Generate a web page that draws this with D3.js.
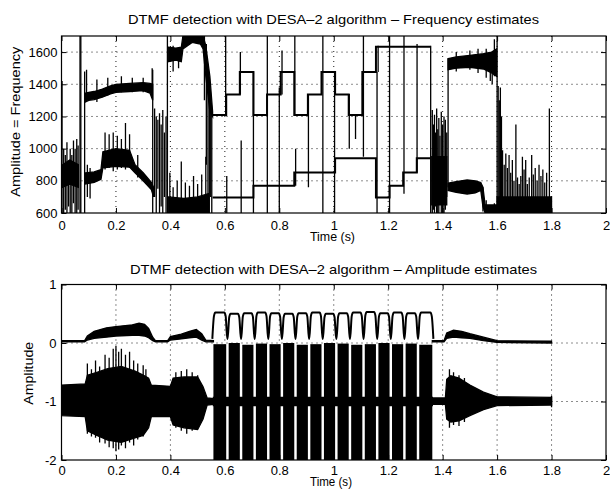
<!DOCTYPE html>
<html>
<head>
<meta charset="utf-8">
<script src="https://cdn.jsdelivr.net/npm/d3@7"></script>
<style>
    body { margin: 0; background: #fff; }
    text { font-family: "Liberation Sans", Arial, Helvetica, sans-serif; fill: #000; }
</style>
</head>
<body>
<div id="chart"></div>
<script>
//----------------------------------------------------------------------------
// data
const xTicks = [0, 0.2, 0.4, 0.6, 0.8, 1, 1.2, 1.4, 1.6, 1.8, 2]
const freqTicks = [600, 800, 1000, 1200, 1400, 1600]
const ampTicks = [-2, -1, 0, 1]

// keyed tones: edges (s), column and row frequency of each tone
const toneEdges = [0.555, 0.605, 0.655, 0.705, 0.755, 0.805, 0.855, 0.905, 0.955,
    1.005, 1.055, 1.105, 1.155, 1.205, 1.255, 1.305, 1.355]
const toneHigh = [1209, 1336, 1477, 1209, 1336, 1477, 1209, 1336, 1477, 1336, 1209, 1477, 1633, 1633, 1633, 1633]
const toneLow = [697, 697, 697, 770, 770, 770, 852, 852, 852, 941, 941, 941, 697, 770, 852, 941]

// noisy stretches of the frequency estimates: [time, lower edge, upper edge]
const freqStartBand = [[0.004, 760, 900], [0.03, 780, 930], [0.062, 760, 900]]
const freqHighSpeech = [[0.088, 1290, 1345], [0.1, 1300, 1350], [0.12, 1305, 1355], [0.15, 1320, 1370],
    [0.18, 1340, 1390], [0.2, 1350, 1400], [0.25, 1355, 1405], [0.3, 1360, 1410], [0.325, 1345, 1405], [0.335, 1300, 1400]]
const freqLowSpeech = [[0.088, 780, 850], [0.12, 790, 855], [0.145, 810, 870], [0.152, 880, 980], [0.2, 890, 1000],
    [0.25, 885, 990], [0.27, 850, 900], [0.3, 800, 850], [0.33, 745, 790], [0.338, 700, 760]]
const freqHighMid = [[0.392, 1540, 1630], [0.42, 1550, 1625], [0.44, 1540, 1630], [0.446, 1620, 1700], [0.48, 1660, 1700],
    [0.51, 1650, 1700], [0.52, 1620, 1700], [0.53, 1450, 1640], [0.545, 1230, 1450], [0.555, 1200, 1230]]
const freqLowMid = [[0.392, 600, 700], [0.45, 600, 690], [0.5, 600, 700], [0.54, 600, 720]]
const freqNoiseBand = [[1.36, 650, 950], [1.415, 650, 950]]
const freqHighTail = [[1.42, 1490, 1560], [1.45, 1500, 1570], [1.5, 1505, 1580], [1.55, 1495, 1590], [1.58, 1470, 1600], [1.598, 1450, 1620]]
const freqLowTail = [[1.42, 740, 785], [1.45, 728, 795], [1.49, 718, 805], [1.52, 725, 800], [1.54, 740, 790],
    [1.548, 640, 760], [1.556, 600, 650], [1.6, 600, 650]]
const freqEndBand = [[1.6, 600, 700], [1.8, 600, 700]]

// vertical excursions of the frequency traces: [time, from, to]
const freqSpikes = [
    [0.002, 600, 1420], [0.008, 600, 1000], [0.014, 620, 960], [0.02, 600, 1040], [0.026, 640, 920], [0.032, 600, 1000],
    [0.038, 600, 960], [0.044, 660, 1050], [0.05, 600, 1000], [0.056, 600, 1060], [0.061, 620, 1020],
    [0.068, 600, 1700], [0.071, 600, 1700], [0.085, 600, 1480],
    [0.092, 1300, 1490], [0.13, 1290, 1430], [0.17, 1330, 1440], [0.22, 1350, 1450], [0.26, 1350, 1440], [0.3, 1350, 1440], [0.333, 1320, 1500],
    [0.095, 700, 900], [0.105, 690, 880], [0.16, 870, 1100], [0.175, 880, 1090], [0.19, 860, 1100], [0.205, 870, 1080],
    [0.22, 880, 1060], [0.235, 870, 1160], [0.25, 880, 1090], [0.28, 820, 960],
    [0.335, 600, 1490], [0.342, 700, 1250], [0.348, 600, 1200], [0.354, 750, 1180], [0.36, 600, 1220], [0.366, 640, 1150],
    [0.372, 600, 1240], [0.378, 700, 1100], [0.384, 600, 1200], [0.389, 600, 1700],
    [0.41, 1480, 1640], [0.43, 1500, 1620],
    [0.398, 600, 850], [0.41, 600, 760], [0.425, 600, 800], [0.44, 600, 920], [0.455, 600, 790], [0.47, 600, 770],
    [0.485, 600, 830], [0.5, 600, 780], [0.515, 600, 840], [0.53, 600, 950],
    [0.525, 1300, 1700], [0.532, 900, 1650], [0.538, 650, 1450], [0.543, 600, 1300], [0.548, 700, 1250], [0.552, 600, 1220],
    [0.603, 1209, 1700], [0.607, 600, 830], [0.657, 1336, 1600], [0.66, 600, 1050], [0.705, 600, 1477], [0.756, 600, 1700],
    [0.8, 600, 1380], [0.81, 1336, 1610], [0.857, 1209, 1700], [0.86, 770, 1000], [0.907, 760, 1340], [0.96, 600, 1700],
    [1.003, 600, 1480], [1.057, 1000, 1340], [1.08, 1060, 1209], [1.109, 950, 1700], [1.159, 600, 1477], [1.163, 1477, 1640],
    [1.205, 600, 1700], [1.258, 720, 1700], [1.306, 850, 1650], [1.356, 600, 1640],
    [1.362, 600, 1240], [1.366, 620, 1150], [1.37, 600, 1210], [1.374, 640, 1100], [1.378, 600, 1250], [1.382, 600, 1120],
    [1.386, 600, 1190], [1.39, 650, 1080], [1.395, 600, 1230], [1.4, 600, 1150], [1.405, 600, 1200], [1.41, 620, 1180],
    [1.415, 700, 1100], [1.42, 760, 1560],
    [1.45, 1480, 1600], [1.5, 1490, 1610], [1.53, 1470, 1620], [1.56, 1440, 1620], [1.575, 1420, 1600], [1.582, 1400, 1590], [1.59, 1450, 1680],
    [1.6, 600, 1700], [1.548, 610, 760], [1.56, 600, 680], [1.575, 600, 650], [1.59, 600, 660],
    [1.604, 600, 1390], [1.608, 600, 1300], [1.612, 600, 1380], [1.616, 600, 1200], [1.62, 600, 990], [1.626, 600, 900],
    [1.632, 600, 970], [1.638, 600, 880], [1.644, 600, 960], [1.65, 600, 850], [1.656, 600, 930], [1.662, 600, 800],
    [1.669, 600, 1150], [1.675, 600, 820], [1.681, 600, 780], [1.687, 600, 830], [1.693, 600, 950], [1.699, 600, 870],
    [1.705, 600, 930], [1.711, 600, 780], [1.718, 600, 820], [1.727, 600, 960], [1.733, 600, 840], [1.74, 600, 880],
    [1.747, 600, 800], [1.754, 600, 900], [1.761, 600, 830], [1.768, 600, 870], [1.775, 600, 790], [1.782, 600, 850],
    [1.792, 600, 1250], [1.798, 600, 700]
]

// amplitude estimate (upper trace): [time, lower edge, upper edge]
const ampSpeech = [[0, 0.02, 0.04], [0.085, 0.02, 0.04], [0.095, 0.05, 0.12], [0.12, 0.08, 0.2], [0.165, 0.1, 0.26],
    [0.2, 0.12, 0.28], [0.26, 0.13, 0.31], [0.285, 0.13, 0.34], [0.305, 0.12, 0.32], [0.32, 0.09, 0.25], [0.335, 0.04, 0.1],
    [0.345, 0.02, 0.04], [0.39, 0.02, 0.04], [0.4, 0.05, 0.11], [0.44, 0.07, 0.15], [0.47, 0.09, 0.2], [0.495, 0.1, 0.23],
    [0.515, 0.05, 0.16], [0.53, 0.02, 0.05], [0.558, 0.02, 0.04]]
const ampTail = [[1.362, 0.02, 0.04], [1.405, 0.02, 0.04], [1.415, 0.08, 0.17], [1.44, 0.1, 0.22], [1.47, 0.09, 0.2],
    [1.5, 0.08, 0.16], [1.55, 0.04, 0.1], [1.6, 0.01, 0.04], [1.8, 0.0, 0.03]]

// tone bursts: on / off time, level of the amplitude plateau, top of the burst
const burstOn = [0.558, 0.614, 0.664, 0.714, 0.764, 0.814, 0.864, 0.914, 0.964, 1.014, 1.064, 1.114, 1.164, 1.214, 1.264, 1.314]
const burstOff = [0.605, 0.655, 0.705, 0.755, 0.805, 0.855, 0.905, 0.955, 1.005, 1.055, 1.105, 1.155, 1.205, 1.255, 1.305, 1.362]
const pulseTop = [0.52, 0.5, 0.51, 0.52, 0.51, 0.5, 0.51, 0.52, 0.5, 0.51, 0.52, 0.53, 0.51, 0.52, 0.51, 0.52]
const pulseDip = 0.07
const burstTop = [-0.02, 0.0, -0.03, -0.01, -0.02, 0.0, -0.03, -0.02, 0.0, -0.01, -0.03, -0.02, 0.0, -0.02, -0.01, -0.03]

// signal (lower trace): [time, lower edge, upper edge]
const sigSpeech = [[0, -1.24, -0.72], [0.087, -1.26, -0.7], [0.095, -1.5, -0.55], [0.13, -1.58, -0.5], [0.17, -1.66, -0.44],
    [0.22, -1.7, -0.4], [0.27, -1.62, -0.48], [0.3, -1.58, -0.55], [0.32, -1.45, -0.6], [0.33, -1.26, -0.72],
    [0.4, -1.26, -0.74], [0.41, -1.4, -0.6], [0.45, -1.45, -0.58], [0.5, -1.48, -0.58], [0.52, -1.3, -0.75],
    [0.535, -1.06, -0.94], [0.558, -1.05, -0.95]]
const sigGaps = [[0.558, -1.07, -0.93], [1.362, -1.07, -0.93]]
const sigTail = [[1.362, -1.05, -0.94], [1.41, -1.05, -0.94], [1.415, -1.3, -0.62], [1.43, -1.35, -0.56], [1.46, -1.33, -0.6],
    [1.5, -1.24, -0.72], [1.55, -1.14, -0.84], [1.6, -1.07, -0.92], [1.8, -1.06, -0.93]]
const sigSpikes = [[0.095, -1.55, -0.35], [0.11, -1.6, -0.45], [0.125, -1.62, -0.3], [0.14, -1.7, -0.4], [0.16, -1.72, -0.2],
    [0.175, -1.78, -0.25], [0.19, -1.8, -0.1], [0.2, -1.85, -0.05], [0.21, -1.82, -0.15], [0.22, -1.75, -0.1],
    [0.235, -1.8, -0.2], [0.25, -1.7, -0.15], [0.265, -1.75, -0.3], [0.28, -1.65, -0.35], [0.3, -1.6, -0.38],
    [0.31, -1.5, -0.45], [0.42, -1.45, -0.5], [0.44, -1.5, -0.48], [0.46, -1.55, -0.45], [0.48, -1.5, -0.5],
    [0.5, -1.45, -0.55], [1.425, -1.45, -0.45], [1.44, -1.4, -0.5], [1.46, -1.42, -0.55], [1.48, -1.35, -0.6],
    [1.8, -1.1, -0.9]]

//----------------------------------------------------------------------------
const width = 610
const height = 495

const svg = d3.select('#chart')
    .append('svg')
    .attr('width', width)
    .attr('height', height)

const x = d3.scaleLinear().domain([0, 2]).range([61.5, 606])
const yF = d3.scaleLinear().domain([600, 1700]).range([213, 36])
const yA = d3.scaleLinear().domain([-2, 1]).range([460, 284.5])

//draw frame, grid, ticks of one panel, return a clipped group for the traces
function panel(id, y, yTicks, xPad, yPad) {
    const [yBottom, yTop] = y.range()
    const g = svg.append('g')

    //dotted grid
    const grid = g.append('g')
    grid.append('g').selectAll('line')
        .data(xTicks.slice(1, -1))
        .join('line')
        .attr('x1', d => x(d)).attr('x2', d => x(d))
        .attr('y1', yTop).attr('y2', yBottom)
    grid.append('g').selectAll('line')
        .data(yTicks.slice(1).filter(d => y(d) > yTop + 1))
        .join('line')
        .attr('x1', x(0)).attr('x2', x(2))
        .attr('y1', d => y(d)).attr('y2', d => y(d))
    grid.selectAll('line')
        .attr('stroke', '#000')
        .attr('stroke-width', 0.9)
        .attr('stroke-dasharray', '1,4')

    //ticks on the four sides, pointing inwards
    const axes = [
        [d3.axisBottom(x).tickValues(xTicks).tickFormat(d => d).tickPadding(xPad), `translate(0,${yBottom})`],
        [d3.axisTop(x).tickValues(xTicks).tickFormat(''), `translate(0,${yTop})`],
        [d3.axisLeft(y).tickValues(yTicks).tickFormat(d => d).tickPadding(yPad), `translate(${x(0)},0)`],
        [d3.axisRight(y).tickValues(yTicks).tickFormat(''), `translate(${x(2)},0)`]
    ]
    axes.forEach(([axis, tr]) => {
        g.append('g')
            .attr('transform', tr)
            .call(axis.tickSizeInner(-5).tickSizeOuter(0))
            .call(a => a.select('.domain').remove())
            .call(a => a.selectAll('.tick line').attr('stroke', '#000'))
            .call(a => a.selectAll('text')
                .attr('font-size', 13)
                .attr('font-family', '"Liberation Sans", Arial, sans-serif')
                .attr('fill', '#000'))
    })

    g.append('rect')
        .attr('x', x(0)).attr('y', yTop)
        .attr('width', x(2) - x(0)).attr('height', yBottom - yTop)
        .attr('fill', 'none')
        .attr('stroke', '#000')
        .attr('stroke-width', 1.2)

    svg.append('clipPath').attr('id', id)
        .append('rect')
        .attr('x', x(0)).attr('y', yTop)
        .attr('width', x(2) - x(0)).attr('height', yBottom - yTop)

    return svg.append('g').attr('clip-path', `url(#${id})`)
}

function band(g, data, y) {
    g.append('path')
        .datum(data)
        .attr('d', d3.area().x(d => x(d[0])).y0(d => y(d[1])).y1(d => y(d[2])))
        .attr('fill', '#000')
        .attr('stroke', '#000')
        .attr('stroke-width', 1.3)
}

function spikes(g, data, y) {
    g.append('g').selectAll('line')
        .data(data)
        .join('line')
        .attr('x1', d => x(d[0])).attr('x2', d => x(d[0]))
        .attr('y1', d => y(d[1])).attr('y2', d => y(d[2]))
        .attr('stroke', '#000')
        .attr('stroke-width', 1.3)
}

//----------------------------------------------------------------------------
//frequency estimates
const freqG = panel('clipF', yF, freqTicks, 8, 4)

;[freqStartBand, freqHighSpeech, freqLowSpeech, freqHighMid, freqLowMid, freqNoiseBand,
    freqHighTail, freqLowTail, freqEndBand].forEach(b => band(freqG, b, yF))
spikes(freqG, freqSpikes, yF)

//keyed tones as step traces
const step = d3.line().x(d => x(d[0])).y(d => yF(d[1])).curve(d3.curveStepAfter)
;[toneHigh, toneLow].forEach(levels => {
    const pts = levels.map((f, i) => [toneEdges[i], f])
    pts.push([toneEdges[toneEdges.length - 1], levels[levels.length - 1]])
    freqG.append('path')
        .datum(pts)
        .attr('d', step)
        .attr('fill', 'none')
        .attr('stroke', '#000')
        .attr('stroke-width', 2)
})

//----------------------------------------------------------------------------
//amplitude estimates
const ampG = panel('clipA', yA, ampTicks, 6, 5)

;[sigSpeech, sigGaps, sigTail, ampSpeech, ampTail].forEach(b => band(ampG, b, yA))
spikes(ampG, sigSpikes, yA)

//tone bursts of the signal
ampG.append('g').selectAll('rect')
    .data(burstOn)
    .join('rect')
    .attr('x', d => x(d))
    .attr('width', (d, i) => x(burstOff[i]) - x(d))
    .attr('y', (d, i) => yA(burstTop[i]))
    .attr('height', (d, i) => yA(-2.1) - yA(burstTop[i]))
    .attr('fill', '#000')

//amplitude plateaus of the bursts
const pulsePts = []
burstOn.forEach((on, i) => {
    const off = burstOff[i], lvl = pulseTop[i]
    pulsePts.push([on - 0.004, pulseDip], [on + 0.002, lvl - 0.06], [on + 0.007, lvl],
        [off - 0.007, lvl], [off - 0.002, lvl - 0.06], [off + 0.004, pulseDip])
})
ampG.append('path')
    .datum(pulsePts)
    .attr('d', d3.line().x(d => x(d[0])).y(d => yA(d[1])).curve(d3.curveMonotoneX))
    .attr('fill', 'none')
    .attr('stroke', '#000')
    .attr('stroke-width', 2)

//----------------------------------------------------------------------------
//texts
const labels = [
    ['DTMF detection with DESA\u20132 algorithm \u2013 Frequency estimates', 333.5, 24, 411, 0],
    ['Time (s)', 332.5, 241, 45, 0],
    ['DTMF detection with DESA\u20132 algorithm \u2013 Amplitude estimates', 333.5, 273.5, 407, 0],
    ['Time (s)', 331, 485.5, 42, 0],
    ['Amplitude = Frequency', 20, 121.7, 150, -90],
    ['Amplitude', 33, 373.3, 63, -90]
]
svg.append('g').selectAll('text')
    .data(labels)
    .join('text')
    .attr('transform', d => `translate(${d[1]},${d[2]}) rotate(${d[4]})`)
    .attr('text-anchor', 'middle')
    .attr('font-size', 13)
    .attr('textLength', d => d[3])
    .attr('lengthAdjust', 'spacingAndGlyphs')
    .text(d => d[0])
</script>
</body>
</html>
